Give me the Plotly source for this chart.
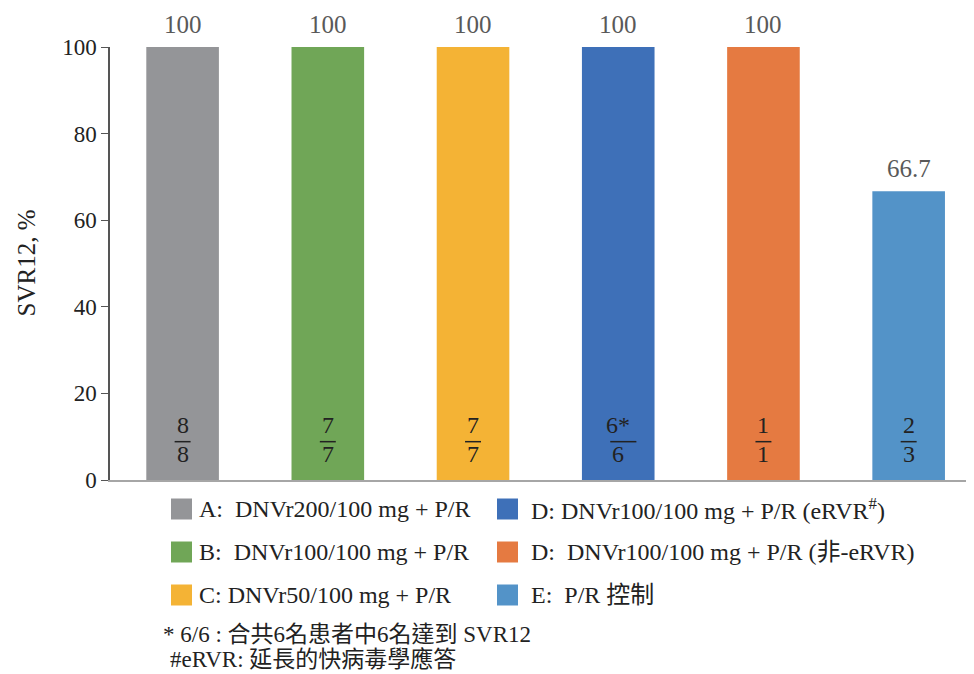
import plotly.graph_objects as go

categories = ["A", "B", "C", "D", "D2", "E"]
svr12 = [100, 100, 100, 100, 100, 66.7]
value_labels = ["100", "100", "100", "100", "100", "66.7"]
numerators = ["8", "7", "7", "6*", "1", "2"]
denominators = ["8", "7", "7", "6", "1", "3"]
colors = ["#949598", "#70a657", "#f4b335", "#3e70b8", "#e57a41", "#5393c8"]
legend_labels = [
    "A:  DNVr200/100 mg + P/R",
    "B:  DNVr100/100 mg + P/R",
    "C: DNVr50/100 mg + P/R",
    "D: DNVr100/100 mg + P/R (eRVR<sup>#</sup>)",
    "D:  DNVr100/100 mg + P/R (非-eRVR)",
    "E:  P/R 控制",
]
footnotes = ["* 6/6 : 合共6名患者中6名達到 SVR12", "#eRVR: 延長的快病毒學應答"]
y_ticks = [0, 20, 40, 60, 80, 100]

FONT = "Liberation Serif, Noto Sans CJK TC, serif"
OFF = 8  # page body margin
W, H = 974 - OFF, 674 - OFF
ML, MT, MB = 110 - OFF, 47 - OFF, 194
plot_h = H - MT - MB

fig = go.Figure()
fig.add_trace(go.Bar(
    x=categories, y=svr12, marker=dict(color=colors, line=dict(width=0)),
    width=0.5, showlegend=False, hoverinfo="skip",
))

ann = []
shapes = []
for i, (c, v, lab, n, d) in enumerate(zip(categories, svr12, value_labels, numerators, denominators)):
    ann.append(dict(x=c, y=v, text=lab, showarrow=False, yanchor="bottom", yshift=8,
                    borderpad=0, font=dict(family=FONT, size=25, color="#595959")))
    ann.append(dict(x=c, y=12.6, text=n, showarrow=False, yanchor="middle",
                    font=dict(family=FONT, size=24, color="#222222")))
    ann.append(dict(x=c, y=6.0, text=d, showarrow=False, yanchor="middle",
                    font=dict(family=FONT, size=24, color="#222222")))
    extra = 0.07 * (len(n) - 1)
    shapes.append(dict(type="line", xref="x", yref="y",
                       x0=i - 0.055, x1=i + 0.055 + extra, y0=8.85, y1=8.85,
                       line=dict(color="#222222", width=1.5)))

# y-axis title
ann.append(dict(xref="paper", yref="paper", x=0, y=0.5, xshift=-(110 - 26), text="SVR12, %",
                textangle=-90, showarrow=False, xanchor="center",
                font=dict(family=FONT, size=25, color="#222222")))

def px_x(x):
    return (x - OFF - ML) / (W - ML)

def px_y(y):
    return (H - MB - (y - OFF)) / plot_h

col_sq = [171, 497]
col_tx = [197, 529]
row_y = [509, 552, 595]
for k, lab in enumerate(legend_labels):
    col, row = divmod(k, 3)
    cy = row_y[row]
    shapes.append(dict(type="rect", xref="paper", yref="paper",
                       x0=px_x(col_sq[col]), x1=px_x(col_sq[col] + 21),
                       y0=px_y(cy + 10.5), y1=px_y(cy - 10.5),
                       fillcolor=colors[k], line=dict(width=0)))
    ann.append(dict(xref="paper", yref="paper", x=px_x(col_tx[col]), y=px_y(cy),
                    text=lab, showarrow=False, xanchor="left", yanchor="middle",
                    font=dict(family=FONT, size=24, color="#222222")))

foot_x = [161, 168]
foot_y = [634, 659]
for t, fx, fy in zip(footnotes, foot_x, foot_y):
    ann.append(dict(xref="paper", yref="paper", x=px_x(fx), y=px_y(fy), text=t,
                    showarrow=False, xanchor="left", yanchor="middle",
                    font=dict(family=FONT, size=23, color="#222222")))

fig.update_layout(
    width=W, height=H,
    margin=dict(l=ML, r=0, t=MT, b=MB, pad=0),
    paper_bgcolor="white", plot_bgcolor="white",
    font=dict(family=FONT, color="#222222"),
    annotations=ann, shapes=shapes,
    xaxis=dict(type="category", categoryorder="array", categoryarray=categories,
               range=[-0.5, 5.45], showticklabels=False, showgrid=False,
               showline=True, linecolor="#a6a6a6", linewidth=2, ticks="", zeroline=False),
    yaxis=dict(range=[0, 100], tickvals=y_ticks, showgrid=False, zeroline=False,
               showline=True, linecolor="#555555", linewidth=1.5,
               ticks="outside", ticklen=7, tickcolor="#555555",
               tickfont=dict(family=FONT, size=23, color="#222222")),
)

fig.write_html("out.html")
